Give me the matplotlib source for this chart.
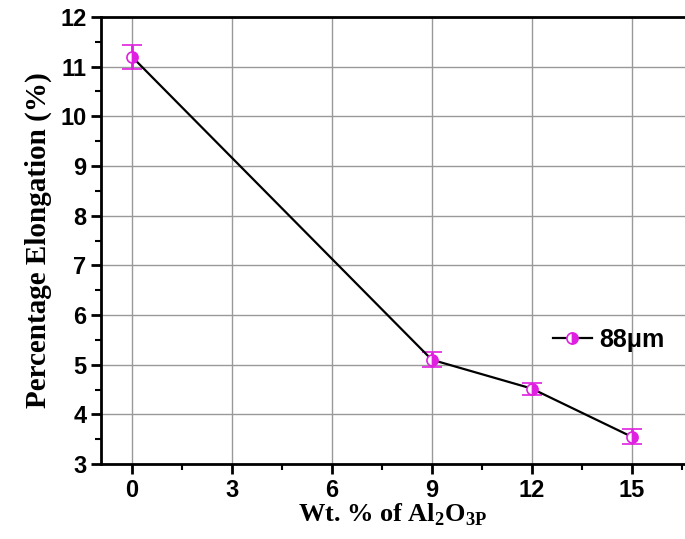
import matplotlib
matplotlib.use("Agg")
import matplotlib.pyplot as plt
from matplotlib.lines import Line2D
from matplotlib.ticker import MultipleLocator

# data
wt_pct = [0, 9, 12, 15]
elongation = [11.2, 5.1, 4.52, 3.55]
err = [0.24, 0.15, 0.12, 0.15]
series_label = "88\u03bcm"

MAGENTA = "#e020e0"

plt.rcParams["mathtext.fontset"] = "custom"
plt.rcParams["mathtext.bf"] = "Liberation Serif:bold"
plt.rcParams["mathtext.rm"] = "Liberation Serif:bold"

fig = plt.figure(figsize=(6.85, 5.39), dpi=100)
ax = fig.add_axes([0.1474, 0.139, 0.8526, 0.8295])

marker_kw = dict(marker="o", ms=8, mfc=MAGENTA, mfcalt="white",
                 fillstyle="right", mec=MAGENTA, mew=1.2)

ax.errorbar(wt_pct, elongation, yerr=err, color="black", lw=1.6,
            ecolor=MAGENTA, elinewidth=2, capsize=7, capthick=2,
            zorder=3, **marker_kw)

ax.set_xlim(-0.93, 16.6)
ax.set_ylim(3, 12)
ax.xaxis.set_major_locator(MultipleLocator(3))
ax.xaxis.set_minor_locator(MultipleLocator(1.5))
ax.yaxis.set_major_locator(MultipleLocator(1))
ax.yaxis.set_minor_locator(MultipleLocator(0.5))
ax.grid(True, which="major", color="#999999", lw=1)
ax.set_axisbelow(True)

for s in ["left", "bottom", "top"]:
    ax.spines[s].set_linewidth(2)
ax.spines["right"].set_visible(False)

ax.tick_params(which="major", direction="out", length=7, width=2,
               labelsize=17, top=False, right=False)
ax.tick_params(which="minor", direction="out", length=4, width=1.5,
               top=False, right=False)
for lab in ax.get_xticklabels() + ax.get_yticklabels():
    lab.set_fontfamily("Liberation Sans")
    lab.set_fontweight("bold")

ax.set_ylabel("Percentage Elongation (%)", fontfamily="Liberation Serif",
              fontweight="bold", fontsize=21, labelpad=6)
ax.set_xlabel(r"Wt. % of Al$_\mathbf{2}$O$_\mathbf{3P}$",
              fontfamily="Liberation Serif", fontweight="bold", fontsize=19,
              labelpad=0)

handle = Line2D([], [], color="black", lw=1.6, **marker_kw)
ax.legend([handle], [series_label], loc="center left",
          bbox_to_anchor=(0.774, 0.277), frameon=False,
          borderaxespad=0, borderpad=0,
          prop={"family": "Liberation Sans", "weight": "bold", "size": 18},
          handlelength=1.55, handletextpad=0.3)

fig.savefig("out.png", dpi=100)
